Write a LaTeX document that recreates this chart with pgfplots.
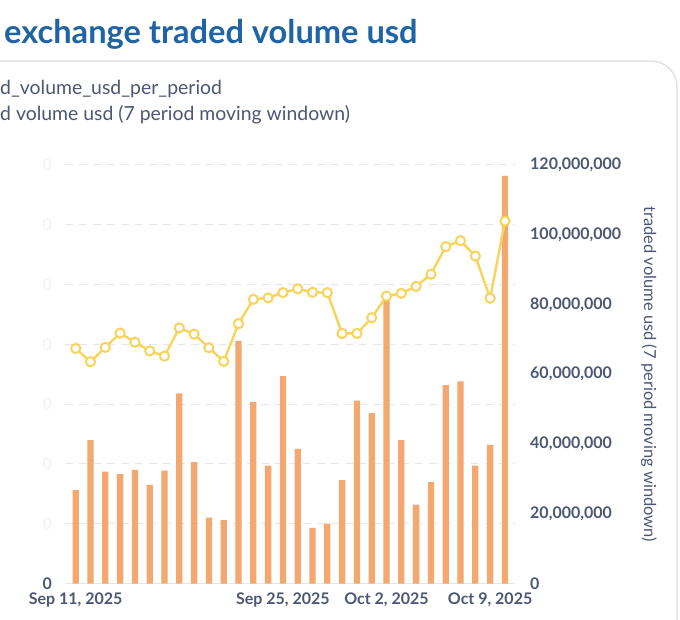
\documentclass[border=0pt]{standalone}
\usepackage{fontspec}
\setmainfont{Lato}
\usepackage{pgfplots}
\pgfplotsset{compat=1.18}
\definecolor{barc}{HTML}{F2A86F}
\definecolor{lnc}{HTML}{F9D45C}
\definecolor{txt}{HTML}{4C5773}
\definecolor{ttl}{HTML}{2064A4}
\definecolor{gridc}{HTML}{E4E6EA}
\definecolor{card}{HTML}{DEDFE2}
\definecolor{ghost}{HTML}{F4F5F7}

\pgfplotstableread{
x v
0 7800000
1 12000000
2 9350000
3 9150000
4 9500000
5 8250000
6 9450000
7 15900000
8 10150000
9 5500000
10 5300000
11 20300000
12 15200000
13 9850000
14 17350000
15 11250000
16 4650000
17 5000000
18 8650000
19 15300000
20 14250000
21 23850000
22 12000000
23 6600000
24 8500000
25 16600000
26 16900000
27 9850000
28 11600000
29 34100000
}\bars

\pgfplotstableread{
x v
0 67400000
1 63600000
2 67700000
3 71800000
4 69200000
5 66700000
6 65200000
7 73300000
8 71500000
9 67600000
10 63700000
11 74500000
12 81500000
13 81900000
14 83400000
15 84500000
16 83500000
17 83400000
18 71700000
19 71700000
20 76200000
21 82400000
22 83200000
23 85200000
24 88700000
25 96600000
26 98300000
27 93900000
28 81800000
29 103900000
}\moving

\begin{document}
\begin{tikzpicture}[x=1pt,y=1pt]
\useasboundingbox (0,0) rectangle (680,619);
\fill[white] (0,0) rectangle (680,619);
\draw[card, line width=1.3pt] (-10,558) -- (651,558) arc[start angle=90, end angle=0, radius=26] -- (677,-10);
\node[anchor=base west, font=\fontsize{32.6}{38}\selectfont\bfseries, text=ttl, inner sep=0pt] at (4,575) {exchange traded volume usd};
\node[anchor=base west, font=\fontsize{19.4}{23}\selectfont, text=txt, inner sep=0pt] at (0,524) {d\_volume\_usd\_per\_period};
\node[anchor=base west, font=\fontsize{19.4}{23}\selectfont, text=txt, inner sep=0pt] at (0,498.3) {d volume usd (7 period moving windown)};

\begin{axis}[
  at={(65pt,35.5pt)}, anchor=south west,
  scale only axis, width=450pt, height=418.5pt,
  xmin=-0.723, xmax=29.68,
  ymin=0, ymax=35000000,
  axis y line*=left, axis x line*=bottom,
  axis line style={draw=none},
  major tick length=0pt,
  scaled y ticks=false,
  ytick={0,5000000,10000000,15000000,20000000,25000000,30000000,35000000},
  yticklabels={0,{\color{ghost}0},{\color{ghost}0},{\color{ghost}0},{\color{ghost}0},{\color{ghost}0},{\color{ghost}0},{\color{ghost}0}},
  yticklabel style={font=\fontsize{16}{19}\selectfont\bfseries, text=txt, anchor=east, inner sep=0pt, xshift=-13pt},
  ymajorgrids,
  grid style={gridc, line width=1pt, dash pattern=on 8pt off 6pt},
  xtick={0,14,21,28},
  xticklabels={{Sep 11, 2025},{Sep 25, 2025},{Oct 2, 2025},{Oct 9, 2025}},
  xticklabel style={font=\fontsize{16}{19}\selectfont\bfseries, text=txt, anchor=north, inner sep=0pt, yshift=-9pt},
  clip=false,
]
\draw[gridc, line width=1pt] (axis cs:-0.723,0) -- (axis cs:29.68,0);
\addplot[ybar, bar width=6.3pt, fill=barc, draw=none] table[x=x, y=v] {\bars};
\end{axis}

\begin{axis}[
  at={(65pt,35.5pt)}, anchor=south west,
  scale only axis, width=450pt, height=418.5pt,
  xmin=-0.723, xmax=29.68,
  ymin=0, ymax=120000000,
  axis y line*=right, axis x line=none,
  axis line style={draw=none},
  major tick length=0pt,
  ytick={0,20000000,40000000,60000000,80000000,100000000,120000000},
  scaled y ticks=false,
  yticklabel style={font=\fontsize{16}{19}\selectfont\bfseries, text=txt, anchor=west, inner sep=0pt, xshift=15pt,
    /pgf/number format/.cd, fixed, precision=0, 1000 sep={,}, assume math mode=true},
  ylabel={traded volume usd (7 period moving windown)},
  ylabel style={font=\fontsize{16.5}{19}\selectfont, text=txt, at={(axis description cs:1.2978,0.5)}, anchor=center, rotate=180},
  clip=false,
]
\addplot[lnc, line width=2.4pt, mark=*, mark size=4.6pt, mark options={fill=white, draw=lnc, line width=2pt}] table[x=x, y=v] {\moving};
\end{axis}
\end{tikzpicture}
\end{document}
